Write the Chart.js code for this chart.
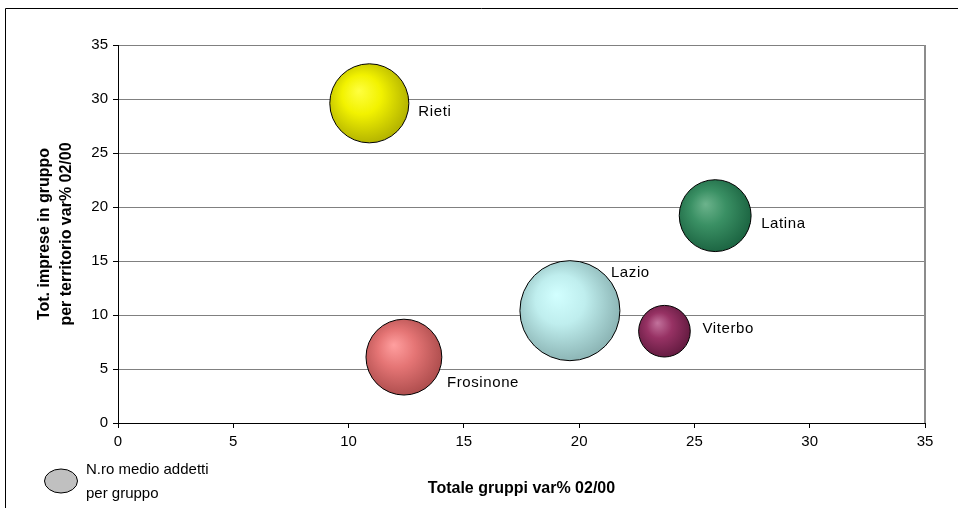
<!DOCTYPE html>
<html><head><meta charset="utf-8">
<script src="https://cdn.jsdelivr.net/npm/chart.js@4.4.0/dist/chart.umd.min.js"></script>
<style>html,body{margin:0;padding:0;background:#fff;overflow:hidden}#wrap{position:relative;width:958px;height:508px}</style>
</head><body><div id="wrap"><canvas id="c" width="958" height="508"></canvas></div>
<script>
// ---- data ----
const categories = ['Lazio', 'Frosinone', 'Latina', 'Rieti', 'Viterbo'];
const xValues = [19.6, 12.4, 25.9, 10.9, 23.7];      // Totale gruppi var% 02/00
const yValues = [10.4, 6.1, 19.2, 29.6, 8.5];        // Tot. imprese in gruppo per territorio var% 02/00
const sizeValues = [12.0, 6.9, 6.2, 7.5, 3.2];       // N.ro medio addetti per gruppo
const xTickValues = [0, 5, 10, 15, 20, 25, 30, 35];
const yTickValues = [0, 5, 10, 15, 20, 25, 30, 35];
const seriesLabel = ['N.ro medio addetti', 'per gruppo'];
const xTitle = 'Totale gruppi var% 02/00';
const yTitle = ['Tot. imprese in gruppo', 'per territorio var% 02/00'];

// ---- styles ----
const FONT = "'Liberation Sans', Arial, sans-serif";
const bubbleStops = {
  'Lazio':     ['#d2ffff', '#bfeeee', '#8db6b6'],
  'Frosinone': ['#ff9f9f', '#e57575', '#b04f4f'],
  'Latina':    ['#6cb38c', '#3a9064', '#1d6643'],
  'Rieti':     ['#ffff40', '#f2f200', '#b5b500'],
  'Viterbo':   ['#c2729c', '#973264', '#661c42']
};
const labelOffsets = {
  'Lazio': [41, -38], 'Frosinone': [43, 26], 'Latina': [46, 8], 'Rieti': [49, 9], 'Viterbo': [38, -2]
};
const MAX_R = 50;
const maxSize = Math.max(...sizeValues);

function bubbleFill(ctx) {
  const name = categories[ctx.dataIndex];
  const stops = bubbleStops[name];
  const chart = ctx.chart;
  const sx = chart.scales.x, sy = chart.scales.y;
  if (!sx || !sy || !chart.chartArea) return stops[1];
  const cx = sx.getPixelForValue(xValues[ctx.dataIndex]);
  const cy = sy.getPixelForValue(yValues[ctx.dataIndex]);
  const r = MAX_R * Math.sqrt(sizeValues[ctx.dataIndex] / maxSize);
  if (!isFinite(cx) || !isFinite(cy)) return stops[1];
  const g = chart.ctx.createRadialGradient(cx - 0.27 * r, cy - 0.32 * r, 0, cx - 0.1 * r, cy - 0.1 * r, r * 1.1);
  g.addColorStop(0, stops[0]);
  g.addColorStop(0.45, stops[1]);
  g.addColorStop(1, stops[2]);
  return g;
}

const decorPlugin = {
  id: 'decor',
  beforeDraw(chart) {
    const c = chart.ctx;
    c.save();
    c.strokeStyle = '#000';
    c.lineWidth = 1;
    c.beginPath();
    c.moveTo(5.5, 508); c.lineTo(5.5, 8.5); c.lineTo(958, 8.5);
    c.stroke();
    c.restore();
  },
  afterDatasetsDraw(chart) {
    const c = chart.ctx;
    const a = chart.chartArea;
    c.save();
    // plot area right border
    c.strokeStyle = '#8c8c8c';
    c.lineWidth = 2;
    c.beginPath();
    c.moveTo(a.right, a.top); c.lineTo(a.right, a.bottom);
    c.stroke();
    // data labels
    const meta = chart.getDatasetMeta(0);
    c.fillStyle = '#000';
    c.font = '15px ' + FONT;
    if ('letterSpacing' in c) c.letterSpacing = '0.6px';
    c.textAlign = 'left';
    c.textBaseline = 'middle';
    meta.data.forEach((el, i) => {
      const off = labelOffsets[categories[i]];
      c.fillText(categories[i], el.x + off[0], el.y + off[1]);
    });
    if ('letterSpacing' in c) c.letterSpacing = '0px';
    // legend
    c.beginPath();
    c.ellipse(61, 481, 16.5, 12, 0, 0, Math.PI * 2);
    c.fillStyle = '#c0c0c0';
    c.fill();
    c.strokeStyle = '#000';
    c.lineWidth = 1;
    c.stroke();
    c.fillStyle = '#000';
    c.font = '15px ' + FONT;
    c.fillText(seriesLabel[0], 86, 470);
    c.fillText(seriesLabel[1], 86, 494);
    c.restore();
  }
};

new Chart(document.getElementById('c'), {
  type: 'bubble',
  data: {
    datasets: [{
      label: seriesLabel.join(' '),
      data: categories.map((n, i) => ({ x: xValues[i], y: yValues[i], r: MAX_R * Math.sqrt(sizeValues[i] / maxSize) })),
      backgroundColor: bubbleFill,
      hoverBackgroundColor: bubbleFill,
      borderColor: '#000',
      borderWidth: 1,
      hoverBorderWidth: 1
    }]
  },
  options: {
    responsive: false,
    devicePixelRatio: 1,
    animation: false,
    events: [],
    layout: { autoPadding: false, padding: { left: 0, right: 33, top: 45, bottom: 0 } },
    plugins: { legend: { display: false }, tooltip: { enabled: false } },
    scales: {
      x: {
        type: 'linear',
        min: xTickValues[0], max: xTickValues[xTickValues.length - 1],
        afterBuildTicks: s => { s.ticks = xTickValues.map(v => ({ value: v })); },
        afterFit: s => { s.height = 85; },
        grid: { drawOnChartArea: false, drawTicks: true, tickLength: 5, tickColor: '#000' },
        border: { display: true, color: '#000', width: 1 },
        ticks: { color: '#000', font: { family: FONT, size: 15 }, padding: 5, maxRotation: 0 },
        title: { display: true, text: xTitle, color: '#000', font: { family: FONT, size: 16, weight: 'bold' }, padding: { top: 0, bottom: 10 } }
      },
      y: {
        type: 'linear',
        min: yTickValues[0], max: yTickValues[yTickValues.length - 1],
        afterBuildTicks: s => { s.ticks = yTickValues.map(v => ({ value: v })); },
        afterFit: s => { s.width = 118; },
        grid: { drawOnChartArea: true, color: '#808080', lineWidth: 1, drawTicks: true, tickLength: 5, tickColor: '#000' },
        border: { display: true, color: '#000', width: 1 },
        ticks: { color: '#000', font: { family: FONT, size: 15 }, padding: 5 },
        title: { display: true, text: yTitle, color: '#000', font: { family: FONT, size: 16, weight: 'bold', lineHeight: 1.35 }, padding: { top: 34, bottom: 0 } }
      }
    }
  },
  plugins: [decorPlugin]
});
</script></body></html>
